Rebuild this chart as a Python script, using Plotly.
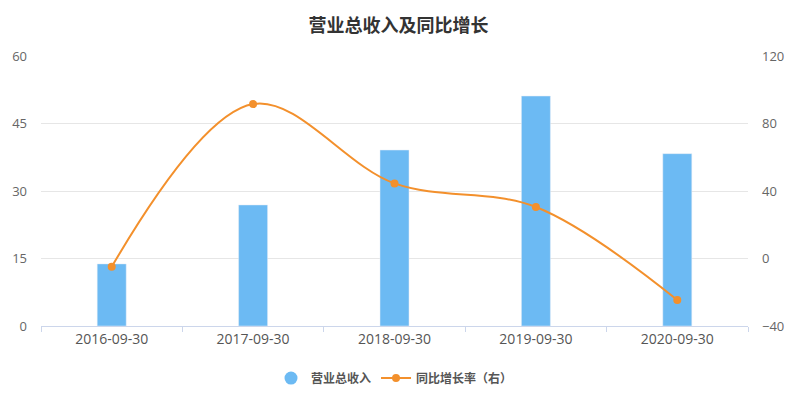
import plotly.graph_objects as go

categories = ["2016-09-30", "2017-09-30", "2018-09-30", "2019-09-30", "2020-09-30"]
revenue = [13.8, 26.9, 39.1, 51.1, 38.3]
growth = [-4.9, 91.5, 44.5, 30.5, -24.6]

bar_color = "#6cbaf3"
line_color = "#f3902c"
cjk_font = "Noto Sans CJK SC, sans-serif"
num_font = "Open Sans, Noto Sans CJK SC, sans-serif"

fig = go.Figure()
fig.add_trace(go.Bar(
    x=categories, y=revenue, name="营业总收入", marker_color=bar_color,
    width=0.205, showlegend=False, yaxis="y"))
fig.add_trace(go.Scatter(
    x=[None], y=[None], mode="markers", name="营业总收入",
    marker=dict(symbol="circle", size=13, color=bar_color), showlegend=True))
fig.add_trace(go.Scatter(
    x=categories, y=growth, name="同比增长率（右）", yaxis="y2",
    mode="lines+markers", line=dict(color=line_color, width=2, shape="spline", smoothing=1),
    marker=dict(size=8, color=line_color)))

fig.update_layout(
    width=796, height=396,
    margin=dict(l=33, r=56, t=48, b=78, autoexpand=False),
    paper_bgcolor="white", plot_bgcolor="white",
    font=dict(family=num_font, size=13, color="#666"),
    title=dict(text="<b>营业总收入及同比增长</b>", x=390.5/796, xanchor="center",
               y=1 - 18/396, yanchor="middle",
               font=dict(size=18, color="#333", family=cjk_font)),
    xaxis=dict(type="category", showgrid=False, showline=True, linecolor="#ccd6eb",
               ticks="outside", tickson="boundaries", ticklen=5, tickcolor="#ccd6eb",
               tickfont=dict(size=14, color="#555", family=num_font), automargin=False),
    yaxis=dict(range=[0, 60], tickvals=[0, 15, 30, 45, 60], showgrid=True,
               gridcolor="#e6e6e6", zeroline=False, showline=False, automargin=False,
               tickfont=dict(size=13, color="#666", family=num_font), ticklabelstandoff=13),
    yaxis2=dict(range=[-40, 120], tickvals=[-40, 0, 40, 80, 120], overlaying="y",
                side="right", showgrid=False, zeroline=False, showline=False, automargin=False,
                tickfont=dict(size=13, color="#666", family=num_font), ticklabelstandoff=13),
    legend=dict(orientation="h", x=0.5, xanchor="center", y=-0.193, yanchor="middle",
                font=dict(size=12, color="#555", family=cjk_font, weight="bold"), itemwidth=30),
    bargap=0.7,
)

fig.write_html("out.html")
